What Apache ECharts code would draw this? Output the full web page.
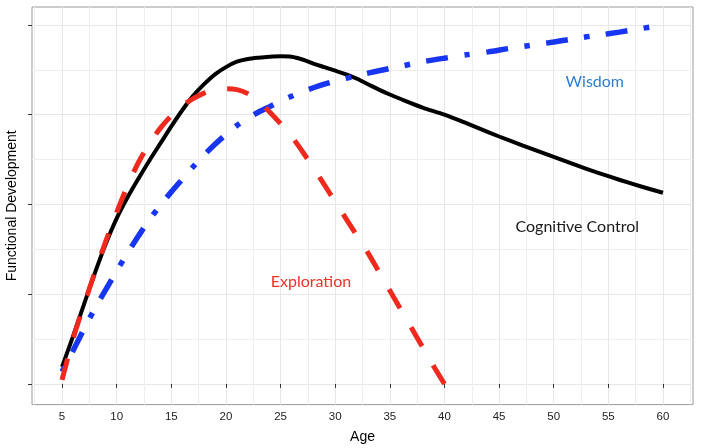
<!DOCTYPE html>
<html>
<head>
<meta charset="utf-8">
<script src="https://cdn.jsdelivr.net/npm/echarts@6/dist/echarts.min.js"></script>
<style>
html,body{margin:0;padding:0;background:#ffffff;}
#chart{width:701px;height:448px;}
</style>
</head>
<body>
<div id="chart"></div>
<script>
// ---- tick values ----
const xTicks = [5, 10, 15, 20, 25, 30, 35, 40, 45, 50, 55, 60];
const xMinorTicks = [2.5, 7.5, 12.5, 17.5, 22.5, 27.5, 32.5, 37.5, 42.5, 47.5, 52.5, 57.5, 62.5];
const yTicks = [0, 1, 2, 3, 4];
const yMinorTicks = [0.5, 1.5, 2.5, 3.5];

// ---- Cognitive Control (black solid) ----
const controlAge = [5, 6, 7, 8, 9, 10, 11, 12, 13, 14, 15, 16, 17, 18, 19, 20, 21, 22, 23, 24, 25, 26, 27, 28, 29, 30, 31, 32, 33, 34, 35, 36, 38, 40, 42, 44, 46, 48, 50, 52, 54, 56, 58, 60];
const controlVal = [0.19, 0.53, 0.885, 1.235, 1.56, 1.845, 2.08, 2.29, 2.49, 2.68, 2.87, 3.05, 3.21, 3.34, 3.45, 3.53, 3.59, 3.62, 3.635, 3.645, 3.65, 3.645, 3.615, 3.57, 3.53, 3.49, 3.45, 3.40, 3.34, 3.28, 3.225, 3.175, 3.08, 3.00, 2.905, 2.805, 2.71, 2.62, 2.53, 2.44, 2.355, 2.275, 2.20, 2.13];

// ---- Exploration (red dashed) ----
const explorationAge = [5, 6, 7, 8, 9, 10, 11, 12, 13, 14, 15, 16, 17, 18, 19, 20, 21, 22, 23, 24, 25, 26, 27, 28, 29, 30, 31, 32, 33, 34, 35, 36, 37, 38, 39, 40];
const explorationVal = [0.045, 0.50, 0.88, 1.24, 1.59, 1.91, 2.21, 2.47, 2.68, 2.85, 2.99, 3.10, 3.18, 3.24, 3.28, 3.29, 3.28, 3.235, 3.15, 3.03, 2.90, 2.76, 2.59, 2.41, 2.22, 2.03, 1.84, 1.65, 1.46, 1.25, 1.04, 0.83, 0.62, 0.41, 0.20, 0.0];

// ---- Wisdom (blue dot-dash) ----
const wisdomAge = [5, 6, 7, 8, 9, 10, 11, 12, 13, 14, 15, 16, 17, 18, 19, 20, 21, 22, 23, 24, 25, 26, 27, 28, 29, 30, 32, 34, 36, 38, 40, 42, 44, 46, 48, 50, 52, 54, 56, 58, 60];
const wisdomVal = [0.137, 0.37, 0.61, 0.84, 1.05, 1.26, 1.46, 1.65, 1.83, 1.99, 2.14, 2.28, 2.42, 2.55, 2.67, 2.78, 2.88, 2.96, 3.03, 3.09, 3.15, 3.205, 3.255, 3.30, 3.34, 3.375, 3.435, 3.49, 3.54, 3.59, 3.63, 3.667, 3.70, 3.74, 3.775, 3.81, 3.85, 3.885, 3.92, 3.96, 4.00];

// ---- annotation texts ----
const labelWisdom = 'Wisdom';
const labelControl = 'Cognitive Control';
const labelExploration = 'Exploration';

function pairs(xs, ys) { return xs.map((x, i) => [x, ys[i]]); }

const chart = echarts.init(document.getElementById('chart'), null, {renderer: 'canvas'});
const annFont = 'Lato';

chart.setOption({
  animation: false,
  backgroundColor: '#ffffff',
  grid: {
    left: 32, right: 8, top: 7, bottom: 43.4,
    outerBoundsMode: 'none', containLabel: false,
    show: true, borderColor: '#9a9a9a', borderWidth: 1, backgroundColor: 'transparent'
  },
  xAxis: [
    {
      type: 'value', min: 2.25, max: 62.75,
      axisLine: {show: false},
      axisTick: {show: true, length: 4, lineStyle: {color: '#333333', width: 1}, customValues: xTicks},
      axisLabel: {show: true, customValues: xTicks, fontFamily: 'Liberation Sans', fontSize: 11.5, color: '#222222', margin: 6},
      splitLine: {show: true, lineStyle: {color: '#e7e7e7', width: 1}},
      name: 'Age', nameLocation: 'middle', nameGap: 26,
      nameTextStyle: {fontFamily: 'Liberation Sans', fontSize: 14, color: '#000000'}
    },
    {
      type: 'value', min: 2.25, max: 62.75, position: 'bottom',
      axisLine: {show: false},
      axisTick: {show: false, customValues: xMinorTicks},
      axisLabel: {show: false, customValues: xMinorTicks},
      splitLine: {show: true, lineStyle: {color: '#eeeeee', width: 1}}
    }
  ],
  yAxis: [
    {
      type: 'value', min: -0.23, max: 4.2,
      axisLine: {show: false},
      axisTick: {show: true, length: 4, lineStyle: {color: '#333333', width: 1}, customValues: yTicks},
      axisLabel: {show: false, customValues: yTicks},
      splitLine: {show: true, lineStyle: {color: '#e7e7e7', width: 1}},
      name: 'Functional Development', nameLocation: 'middle', nameGap: 13,
      nameTextStyle: {fontFamily: 'Liberation Sans', fontSize: 14, color: '#000000'}
    },
    {
      type: 'value', min: -0.23, max: 4.2, position: 'left',
      axisLine: {show: false},
      axisTick: {show: false, customValues: yMinorTicks},
      axisLabel: {show: false, customValues: yMinorTicks},
      splitLine: {show: true, lineStyle: {color: '#eeeeee', width: 1}}
    }
  ],
  series: [
    {
      name: labelControl, type: 'line', xAxisIndex: 0, yAxisIndex: 0,
      data: pairs(controlAge, controlVal),
      smooth: 0.3, symbol: 'none', showSymbol: false,
      lineStyle: {color: '#000000', width: 4, cap: 'butt', join: 'round'},
      z: 3,
      markPoint: {
        symbol: 'circle', symbolSize: 0, silent: true,
        label: {show: true, position: 'inside', formatter: labelControl, fontFamily: annFont, fontSize: 16, color: '#1a1a1a'},
        data: [{coord: [52.16, 1.75]}]
      }
    },
    {
      name: labelWisdom, type: 'line', xAxisIndex: 0, yAxisIndex: 0,
      data: pairs(wisdomAge, wisdomVal),
      smooth: 0.3, symbol: 'none', showSymbol: false,
      lineStyle: {color: '#1836f2', width: 5.5, type: [5.5, 16.5, 22, 16.5], dashOffset: 0, cap: 'butt'},
      z: 4,
      markPoint: {
        symbol: 'circle', symbolSize: 0, silent: true,
        label: {show: true, position: 'inside', formatter: labelWisdom, fontFamily: annFont, fontSize: 16, color: '#2d7fd0'},
        data: [{coord: [53.76, 3.365]}]
      }
    },
    {
      name: labelExploration, type: 'line', xAxisIndex: 0, yAxisIndex: 0,
      data: pairs(explorationAge, explorationVal),
      smooth: 0.3, symbol: 'none', showSymbol: false,
      lineStyle: {color: '#f0291e', width: 5, type: [22, 22], dashOffset: 0, cap: 'butt'},
      z: 5,
      markPoint: {
        symbol: 'circle', symbolSize: 0, silent: true,
        label: {show: true, position: 'inside', formatter: labelExploration, fontFamily: annFont, fontSize: 16, color: '#ea3329'},
        data: [{coord: [27.78, 1.137]}]
      }
    }
  ]
});
</script>
</body>
</html>
